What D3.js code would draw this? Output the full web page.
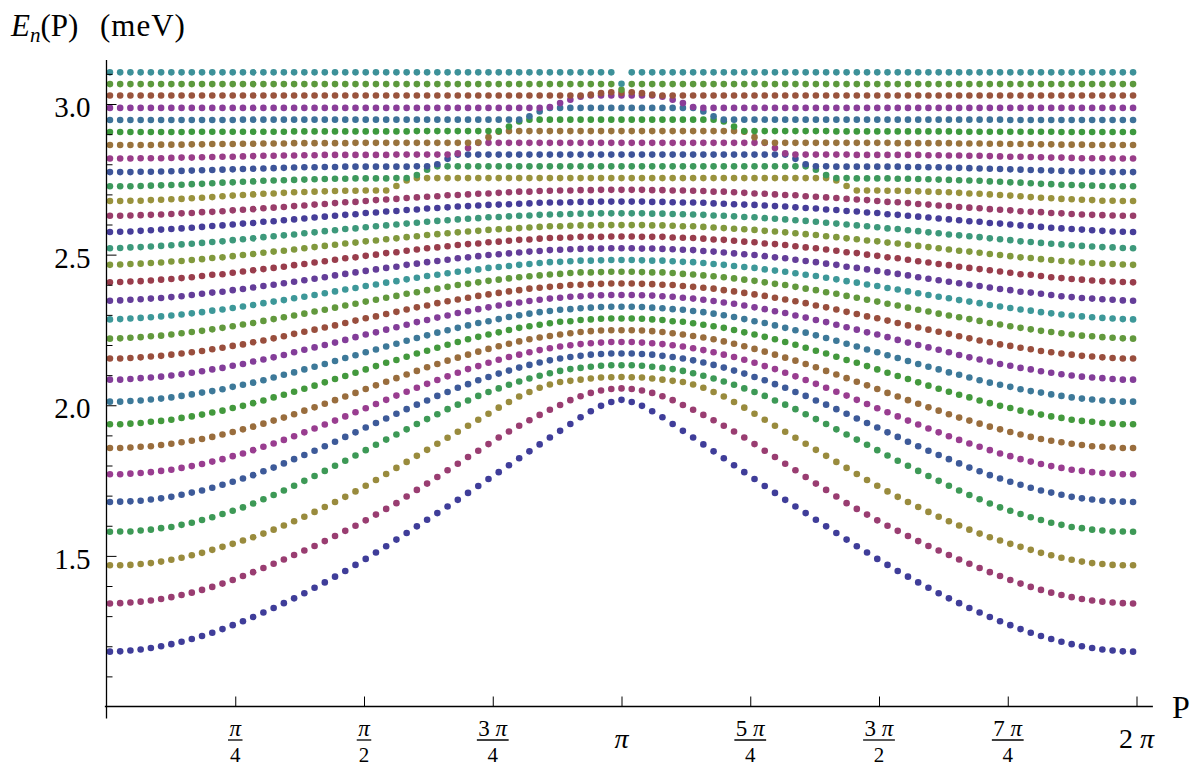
<!DOCTYPE html>
<html><head><meta charset="utf-8">
<script src="https://cdn.jsdelivr.net/npm/d3@7"></script>
<style>body{margin:0;background:#fff}svg{display:block}</style>
</head><body>
<svg id="chart" width="1195" height="768"></svg>
<script>
// Momentum grid: 101 samples across [0, 2π]
const nSamples = 101;
const pFirst = 0.021, pLast = 2 * Math.PI - 0.021;

// E_n(P) in meV for the 51 samples P in [0, π]; the spectrum is symmetric under P -> 2π - P
const E01 = [1.182,1.183,1.186,1.189,1.194,1.200,1.207,1.215,1.224,1.234,1.245,1.257,1.270,1.283,1.297,1.312,1.327,1.343,1.359,1.376,1.394,1.412,1.431,1.450,1.470,1.490,1.511,1.532,1.554,1.576,1.598,1.620,1.642,1.664,1.686,1.709,1.732,1.755,1.778,1.801,1.824,1.847,1.870,1.893,1.915,1.938,1.960,1.980,1.998,2.011,2.018];
const E02 = [1.342,1.343,1.345,1.348,1.352,1.357,1.363,1.370,1.378,1.387,1.397,1.408,1.420,1.433,1.446,1.460,1.474,1.488,1.503,1.518,1.533,1.549,1.566,1.583,1.600,1.618,1.637,1.656,1.675,1.697,1.719,1.740,1.762,1.784,1.806,1.828,1.849,1.871,1.893,1.913,1.932,1.950,1.968,1.985,2.001,2.017,2.030,2.041,2.049,2.054,2.056];
const E03 = [1.469,1.469,1.470,1.473,1.476,1.481,1.487,1.494,1.502,1.510,1.520,1.530,1.540,1.551,1.562,1.574,1.587,1.601,1.615,1.630,1.646,1.662,1.679,1.696,1.714,1.733,1.752,1.772,1.792,1.812,1.832,1.852,1.872,1.892,1.912,1.932,1.952,1.972,1.992,2.011,2.029,2.044,2.058,2.069,2.077,2.081,2.085,2.089,2.092,2.093,2.094];
const E04 = [1.580,1.581,1.581,1.584,1.587,1.592,1.596,1.603,1.610,1.619,1.628,1.639,1.650,1.661,1.674,1.688,1.702,1.717,1.733,1.749,1.765,1.782,1.799,1.816,1.833,1.851,1.869,1.886,1.903,1.920,1.938,1.954,1.970,1.987,2.002,2.016,2.031,2.044,2.056,2.068,2.079,2.089,2.098,2.106,2.114,2.120,2.124,2.128,2.131,2.133,2.133];
const E05 = [1.679,1.680,1.681,1.683,1.687,1.691,1.696,1.703,1.710,1.717,1.726,1.736,1.746,1.757,1.768,1.781,1.793,1.807,1.821,1.835,1.849,1.864,1.879,1.895,1.910,1.926,1.941,1.956,1.972,1.987,2.002,2.016,2.031,2.044,2.058,2.070,2.083,2.094,2.105,2.115,2.125,2.134,2.142,2.149,2.155,2.160,2.164,2.168,2.170,2.172,2.172];
const E06 = [1.771,1.771,1.773,1.775,1.778,1.782,1.786,1.792,1.798,1.805,1.813,1.821,1.831,1.840,1.851,1.862,1.873,1.885,1.897,1.910,1.923,1.936,1.949,1.963,1.977,1.990,2.004,2.018,2.032,2.045,2.058,2.071,2.084,2.096,2.108,2.120,2.130,2.141,2.151,2.160,2.168,2.176,2.183,2.189,2.195,2.199,2.203,2.206,2.208,2.210,2.210];
const E07 = [1.858,1.858,1.860,1.862,1.864,1.868,1.872,1.877,1.882,1.888,1.895,1.903,1.911,1.920,1.929,1.939,1.949,1.959,1.970,1.982,1.993,2.005,2.017,2.029,2.041,2.054,2.066,2.078,2.090,2.102,2.114,2.126,2.137,2.148,2.158,2.168,2.178,2.187,2.196,2.204,2.212,2.219,2.225,2.230,2.235,2.239,2.243,2.246,2.248,2.249,2.249];
const E08 = [1.937,1.937,1.939,1.941,1.945,1.948,1.952,1.958,1.963,1.969,1.976,1.982,1.991,1.998,2.007,2.016,2.026,2.035,2.045,2.055,2.065,2.076,2.087,2.097,2.108,2.119,2.130,2.141,2.150,2.161,2.172,2.181,2.191,2.201,2.210,2.219,2.227,2.235,2.242,2.250,2.257,2.262,2.267,2.272,2.277,2.279,2.283,2.285,2.287,2.288,2.288];
const E09 = [2.012,2.012,2.014,2.016,2.019,2.022,2.026,2.031,2.036,2.042,2.047,2.053,2.061,2.068,2.075,2.083,2.092,2.101,2.109,2.119,2.128,2.137,2.147,2.157,2.166,2.176,2.185,2.195,2.204,2.214,2.223,2.232,2.241,2.249,2.257,2.265,2.273,2.279,2.286,2.293,2.299,2.304,2.309,2.313,2.317,2.319,2.322,2.324,2.326,2.327,2.327];
const E10 = [2.085,2.085,2.087,2.090,2.092,2.095,2.099,2.103,2.108,2.113,2.119,2.124,2.131,2.137,2.145,2.152,2.159,2.167,2.176,2.184,2.192,2.200,2.208,2.217,2.226,2.235,2.242,2.251,2.259,2.267,2.276,2.283,2.291,2.298,2.306,2.312,2.319,2.325,2.331,2.337,2.341,2.346,2.350,2.354,2.357,2.360,2.362,2.364,2.365,2.366,2.366];
const E11 = [2.155,2.155,2.157,2.159,2.162,2.164,2.168,2.172,2.176,2.180,2.186,2.191,2.197,2.202,2.209,2.215,2.222,2.229,2.237,2.244,2.251,2.258,2.265,2.273,2.281,2.289,2.295,2.303,2.310,2.318,2.325,2.331,2.339,2.345,2.351,2.357,2.363,2.368,2.373,2.378,2.382,2.387,2.390,2.393,2.396,2.399,2.400,2.402,2.403,2.404,2.404];
const E12 = [2.221,2.222,2.224,2.226,2.229,2.231,2.235,2.239,2.243,2.247,2.252,2.257,2.262,2.268,2.273,2.280,2.286,2.292,2.298,2.304,2.311,2.317,2.324,2.331,2.337,2.344,2.350,2.357,2.363,2.370,2.375,2.382,2.387,2.393,2.399,2.403,2.408,2.413,2.417,2.421,2.425,2.428,2.431,2.434,2.436,2.439,2.441,2.441,2.442,2.443,2.443];
const E13 = [2.285,2.286,2.288,2.290,2.292,2.295,2.298,2.301,2.305,2.309,2.314,2.318,2.323,2.328,2.333,2.339,2.344,2.349,2.355,2.360,2.366,2.372,2.378,2.384,2.389,2.396,2.401,2.407,2.412,2.418,2.423,2.429,2.433,2.438,2.443,2.447,2.451,2.456,2.459,2.462,2.466,2.469,2.472,2.475,2.476,2.478,2.480,2.480,2.481,2.482,2.482];
const E14 = [2.347,2.348,2.350,2.352,2.354,2.356,2.359,2.362,2.366,2.370,2.374,2.377,2.382,2.386,2.391,2.396,2.400,2.405,2.410,2.415,2.420,2.425,2.431,2.436,2.441,2.446,2.451,2.456,2.460,2.466,2.470,2.475,2.479,2.483,2.488,2.491,2.495,2.499,2.501,2.504,2.507,2.510,2.512,2.515,2.516,2.518,2.519,2.520,2.520,2.521,2.521];
const E15 = [2.408,2.409,2.411,2.412,2.414,2.417,2.419,2.422,2.425,2.429,2.433,2.435,2.440,2.444,2.448,2.452,2.456,2.460,2.465,2.469,2.474,2.478,2.483,2.488,2.491,2.496,2.500,2.505,2.508,2.513,2.517,2.521,2.524,2.528,2.532,2.535,2.537,2.541,2.543,2.546,2.549,2.550,2.553,2.555,2.556,2.557,2.559,2.559,2.559,2.560,2.560];
const E16 = [2.466,2.467,2.469,2.470,2.472,2.474,2.477,2.479,2.482,2.485,2.489,2.491,2.495,2.499,2.502,2.506,2.510,2.513,2.517,2.521,2.525,2.529,2.533,2.537,2.540,2.544,2.547,2.551,2.554,2.558,2.561,2.565,2.568,2.571,2.574,2.577,2.579,2.582,2.584,2.586,2.588,2.590,2.592,2.594,2.594,2.596,2.597,2.597,2.598,2.598,2.598];
const E17 = [2.521,2.522,2.524,2.525,2.527,2.529,2.531,2.534,2.536,2.539,2.542,2.544,2.548,2.551,2.554,2.558,2.561,2.564,2.567,2.571,2.574,2.578,2.581,2.585,2.587,2.591,2.594,2.597,2.600,2.603,2.606,2.609,2.612,2.614,2.617,2.619,2.621,2.624,2.625,2.627,2.629,2.630,2.632,2.633,2.634,2.635,2.636,2.636,2.637,2.637,2.637];
const E18 = [2.575,2.576,2.577,2.579,2.581,2.583,2.585,2.587,2.589,2.592,2.595,2.597,2.600,2.603,2.605,2.609,2.611,2.614,2.617,2.620,2.623,2.626,2.629,2.632,2.634,2.638,2.640,2.643,2.645,2.648,2.650,2.653,2.655,2.657,2.660,2.661,2.663,2.665,2.666,2.667,2.669,2.670,2.672,2.673,2.673,2.674,2.675,2.675,2.676,2.676,2.676];
const E19 = [2.629,2.629,2.630,2.631,2.632,2.633,2.635,2.637,2.638,2.641,2.642,2.644,2.647,2.649,2.651,2.654,2.656,2.658,2.661,2.663,2.666,2.668,2.671,2.674,2.675,2.678,2.681,2.683,2.685,2.688,2.690,2.692,2.694,2.697,2.698,2.700,2.702,2.703,2.705,2.707,2.709,2.709,2.711,2.712,2.713,2.713,2.714,2.714,2.715,2.715,2.715];
const E20 = [2.678,2.678,2.679,2.679,2.681,2.682,2.684,2.685,2.687,2.689,2.691,2.694,2.696,2.698,2.700,2.702,2.703,2.705,2.707,2.708,2.709,2.710,2.711,2.712,2.712,2.713,2.713,2.713,2.728,2.746,2.754,2.754,2.754,2.754,2.754,2.754,2.754,2.754,2.754,2.754,2.754,2.754,2.754,2.754,2.754,2.754,2.754,2.754,2.754,2.754,2.754];
const E21 = [2.727,2.727,2.727,2.728,2.729,2.730,2.731,2.732,2.734,2.735,2.737,2.739,2.740,2.742,2.743,2.745,2.746,2.747,2.748,2.749,2.750,2.751,2.752,2.752,2.753,2.753,2.753,2.753,2.754,2.754,2.764,2.782,2.793,2.793,2.793,2.793,2.793,2.793,2.793,2.793,2.793,2.793,2.793,2.793,2.793,2.793,2.793,2.793,2.793,2.793,2.793];
const E22 = [2.774,2.774,2.774,2.775,2.775,2.776,2.777,2.778,2.779,2.780,2.781,2.782,2.783,2.784,2.785,2.786,2.787,2.788,2.789,2.790,2.790,2.791,2.791,2.792,2.792,2.792,2.792,2.792,2.792,2.792,2.793,2.793,2.800,2.818,2.832,2.832,2.832,2.832,2.832,2.832,2.832,2.832,2.832,2.832,2.832,2.832,2.832,2.832,2.832,2.832,2.832];
const E23 = [2.819,2.819,2.819,2.820,2.820,2.820,2.821,2.822,2.822,2.823,2.824,2.825,2.825,2.826,2.827,2.828,2.828,2.829,2.829,2.830,2.830,2.831,2.831,2.831,2.831,2.831,2.831,2.831,2.832,2.832,2.832,2.832,2.832,2.832,2.836,2.854,2.871,2.871,2.871,2.871,2.871,2.871,2.871,2.871,2.871,2.871,2.871,2.871,2.871,2.871,2.871];
const E24 = [2.864,2.864,2.864,2.864,2.864,2.865,2.865,2.865,2.866,2.866,2.867,2.867,2.867,2.868,2.868,2.869,2.869,2.869,2.870,2.870,2.870,2.870,2.870,2.870,2.871,2.871,2.871,2.871,2.871,2.871,2.871,2.871,2.871,2.871,2.871,2.871,2.872,2.890,2.908,2.910,2.910,2.910,2.910,2.910,2.910,2.910,2.910,2.910,2.910,2.910,2.910];
const E25 = [2.907,2.907,2.907,2.907,2.907,2.907,2.907,2.907,2.908,2.908,2.908,2.908,2.908,2.908,2.908,2.908,2.908,2.908,2.909,2.909,2.909,2.909,2.909,2.909,2.909,2.909,2.909,2.909,2.909,2.909,2.910,2.910,2.910,2.910,2.910,2.910,2.910,2.910,2.910,2.925,2.942,2.948,2.948,2.948,2.948,2.948,2.948,2.948,2.948,2.948,2.948];
const E26 = [2.947,2.947,2.947,2.947,2.947,2.947,2.947,2.947,2.947,2.947,2.947,2.947,2.947,2.948,2.948,2.948,2.948,2.948,2.948,2.948,2.948,2.948,2.948,2.948,2.948,2.948,2.948,2.948,2.948,2.948,2.948,2.948,2.948,2.948,2.948,2.948,2.948,2.948,2.948,2.948,2.948,2.959,2.975,2.987,2.987,2.987,2.987,2.987,2.987,2.987,2.987];
const E27 = [2.987,2.987,2.987,2.987,2.987,2.987,2.987,2.987,2.987,2.987,2.987,2.987,2.987,2.987,2.987,2.987,2.987,2.987,2.987,2.987,2.987,2.987,2.987,2.987,2.987,2.987,2.987,2.987,2.987,2.987,2.987,2.987,2.987,2.987,2.987,2.987,2.987,2.987,2.987,2.987,2.987,2.987,2.987,2.990,3.003,3.014,3.024,3.028,3.028,3.028,3.028];
const E28 = [3.028,3.028,3.028,3.028,3.028,3.028,3.028,3.028,3.028,3.028,3.028,3.028,3.028,3.028,3.028,3.028,3.028,3.028,3.028,3.028,3.028,3.028,3.028,3.028,3.028,3.028,3.028,3.028,3.028,3.028,3.028,3.028,3.028,3.028,3.028,3.028,3.028,3.028,3.028,3.028,3.028,3.028,3.028,3.028,3.028,3.028,3.028,3.031,3.036,3.039,3.037];
const E29 = [3.066,3.066,3.066,3.066,3.066,3.066,3.066,3.066,3.066,3.066,3.066,3.066,3.066,3.066,3.066,3.066,3.066,3.066,3.066,3.066,3.066,3.066,3.066,3.066,3.066,3.066,3.066,3.066,3.066,3.066,3.066,3.066,3.066,3.066,3.066,3.066,3.066,3.066,3.066,3.066,3.066,3.066,3.066,3.066,3.066,3.066,3.066,3.066,3.066,3.066,3.047];
const E30 = [3.105,3.105,3.105,3.105,3.105,3.105,3.105,3.105,3.105,3.105,3.105,3.105,3.105,3.105,3.105,3.105,3.105,3.105,3.105,3.105,3.105,3.105,3.105,3.105,3.105,3.105,3.105,3.105,3.105,3.105,3.105,3.105,3.105,3.105,3.105,3.105,3.105,3.105,3.105,3.105,3.105,3.105,3.105,3.105,3.105,3.105,3.105,3.105,3.105,3.105,3.067];

const bandsHalf = [E01,E02,E03,E04,E05,E06,E07,E08,E09,E10,E11,E12,E13,E14,E15,E16,E17,E18,E19,E20,E21,E22,E23,E24,E25,E26,E27,E28,E29,E30];

const yMajorTicks = [1.5, 2.0, 2.5, 3.0];
const yMinorTicks = [1.1,1.2,1.3,1.4,1.6,1.7,1.8,1.9,2.1,2.2,2.3,2.4,2.6,2.7,2.8,2.9,3.1];
const xTickValues = [Math.PI/4, Math.PI/2, 3*Math.PI/4, Math.PI, 5*Math.PI/4, 3*Math.PI/2, 7*Math.PI/4, 2*Math.PI];
const xTickNumer = ["π","π","3 π","π","5 π","3 π","7 π","2 π"];
const xTickDenom = ["4","2","4","","4","2","4",""];

// ---------------------------------------------------------------
const momenta = d3.range(nSamples).map(i => pFirst + i * (pLast - pFirst) / (nSamples - 1));
const bands = bandsHalf.map(h => h.concat(h.slice(0, h.length - 1).reverse()));

function hsb(h, s, v) {
  const i = Math.floor(h * 6), f = h * 6 - i;
  const p = v * (1 - s), q = v * (1 - f * s), t = v * (1 - (1 - f) * s);
  let r, g, b;
  switch (i % 6) {
    case 0: r = v; g = t; b = p; break;
    case 1: r = q; g = v; b = p; break;
    case 2: r = p; g = v; b = t; break;
    case 3: r = p; g = q; b = v; break;
    case 4: r = t; g = p; b = v; break;
    default: r = v; g = p; b = q;
  }
  return d3.rgb(r * 255, g * 255, b * 255).formatHex();
}
const colors = bands.map((_, i) => hsb((0.67 + 0.236 * i) % 1, 0.6, 0.6));

const svg = d3.select("#chart");
const x = d3.scaleLinear().domain([0, 2 * Math.PI]).range([106.5, 1136.5]);
const y = d3.scaleLinear().domain([1.0, 3.0]).range([706.5, 104]);
const serif = "'Liberation Serif', 'Times New Roman', serif";

// dots
const g = svg.append("g");
bands.forEach((band, i) => {
  g.append("g").attr("fill", colors[i])
    .selectAll("circle").data(band).join("circle")
    .attr("cx", (d, k) => x(momenta[k]))
    .attr("cy", d => y(d))
    .attr("r", 3.3);
});

// axes lines
svg.append("line").attr("x1", x(0)).attr("x2", x(0))
  .attr("y1", y(0.96)).attr("y2", y(3.146))
  .attr("stroke", "#000").attr("stroke-width", 1.3);
svg.append("line").attr("x1", x(-0.01)).attr("x2", x(2 * Math.PI + 0.1))
  .attr("y1", y(1.0)).attr("y2", y(1.0))
  .attr("stroke", "#000").attr("stroke-width", 1.3);

// y axis ticks
const yMinorAxis = d3.axisLeft(y).tickValues(yMinorTicks).tickSize(-6).tickSizeOuter(0).tickFormat("");
const yMajorAxis = d3.axisLeft(y).tickValues(yMajorTicks).tickSize(-10).tickSizeOuter(0).tickPadding(16).tickFormat(d3.format(".1f"));
const gyMinor = svg.append("g").attr("transform", `translate(${x(0)},0)`).call(yMinorAxis);
const gyMajor = svg.append("g").attr("transform", `translate(${x(0)},0)`).call(yMajorAxis);
[gyMinor, gyMajor].forEach(a => {
  a.select(".domain").remove();
  a.selectAll(".tick line").attr("stroke", "#000").attr("stroke-width", 1);
});
gyMajor.selectAll(".tick text").attr("font-family", serif).attr("font-size", 29)
  .attr("fill", "#000").attr("dy", "0.43em");

// x axis ticks
const xAxis = d3.axisBottom(x).tickValues(xTickValues).tickSize(-10).tickSizeOuter(0).tickFormat("");
const gx = svg.append("g").attr("transform", `translate(0,${y(1.0)})`).call(xAxis);
gx.select(".domain").remove();
gx.selectAll(".tick line").attr("stroke", "#000").attr("stroke-width", 1);

function piText(sel, str) {
  str.split("").forEach(ch => {
    sel.append("tspan").text(ch).attr("font-style", ch === "π" ? "italic" : "normal");
  });
}
xTickValues.forEach((v, i) => {
  const lg = svg.append("g").attr("transform", `translate(${x(v)},0)`)
    .attr("font-family", serif).attr("fill", "#000").attr("text-anchor", "middle");
  if (xTickDenom[i] === "") {
    const t = lg.append("text").attr("y", 748).attr("font-size", 28);
    piText(t, xTickNumer[i]);
  } else {
    const num = lg.append("text").attr("y", 736).attr("font-size", 23);
    piText(num, xTickNumer[i]);
    const den = lg.append("text").attr("y", 762).attr("font-size", 21).text(xTickDenom[i]);
    const w = Math.max(num.node().getComputedTextLength(), den.node().getComputedTextLength()) + 3;
    lg.append("line").attr("x1", -w / 2).attr("x2", w / 2).attr("y1", 740).attr("y2", 740)
      .attr("stroke", "#000").attr("stroke-width", 1.3);
  }
});

// axis labels
svg.append("text").attr("x", 1172).attr("y", 718).attr("font-family", serif)
  .attr("font-size", 32).text("P");
const yl = svg.append("text").attr("x", 11).attr("y", 36).attr("font-family", serif).attr("font-size", 31);
yl.append("tspan").attr("font-style", "italic").text("E");
yl.append("tspan").attr("font-style", "italic").attr("font-size", 21).attr("dy", 6).text("n");
yl.append("tspan").attr("dy", -6).text("(P)");
yl.append("tspan").attr("x", 100).attr("letter-spacing", 1).text("(meV)");
</script>
</body></html>
